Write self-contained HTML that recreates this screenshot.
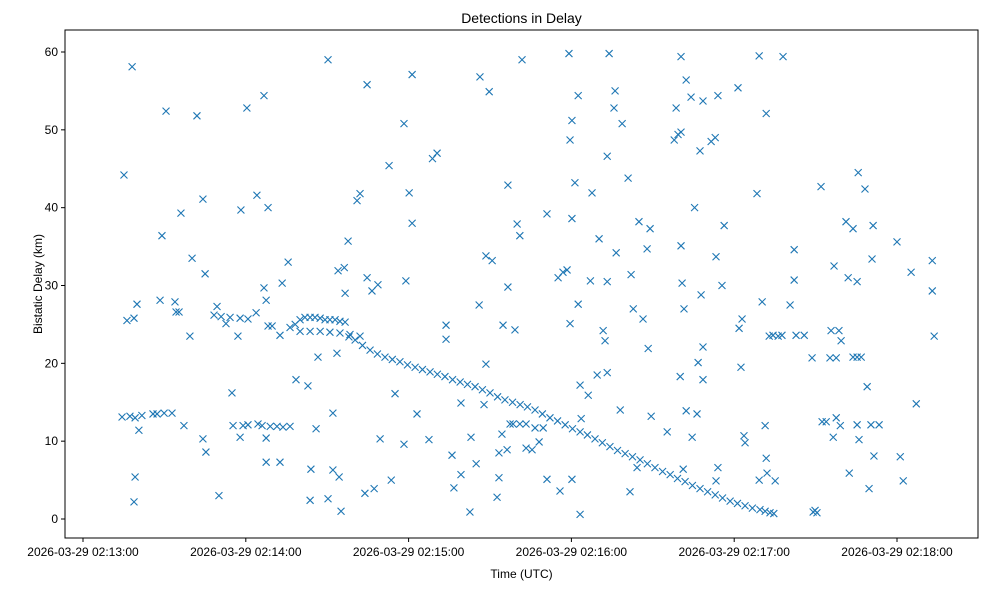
<!DOCTYPE html>
<html><head><meta charset="utf-8"><style>
body{margin:0;background:#fff;}
svg{font-family:"Liberation Sans","DejaVu Sans",sans-serif;}
</style></head><body>
<svg id="chart" width="985" height="590" xmlns="http://www.w3.org/2000/svg"></svg>
<script>
// time in seconds after 02:13:00, delay in km
const scatterTimes=[15.1,16.2,18.1,18.8,19.9,19.2,18.8,20.6,14.4,17.3,19.2,21.7,25.8,27.3,29.9,32.8,28.4,30.6,29.1,33.9,34.3,35.4,36.1,37.2,39.4,40.2,42,44.2,45,44.2,45.3,50.1,48.3,50.9,54.2,57.9,60.8,49.4,52.7,54.9,55.3,59,60.8,64.5,66,69,71.5,73.7,76.3,57.1,57.9,58.2,60.4,64.1,66.7,63.8,66.7,67.5,68.2,67.5,67.5,72.6,68.2,69.7,72.6,73.4,75.6,76.3,78.2,80,81.8,83.7,85.5,87.4,89.2,91,92.9,94.7,96.6,80,83.7,87.4,91,94.7,98.4,102.1,78.5,82.9,83.7,84,85.9,86.6,90.3,90.3,92.1,92.1,93.6,94.4,95.1,94,96.3,96.6,97.7,101,102.1,104.7,103.9,107.3,104.7,106.5,108.7,109.5,112.8,113.6,115,118.3,119,118.3,120.2,121.3,121.3,123.1,127.5,128.8,130.5,133.8,133.8,136,136.7,139.3,139.3,142.6,143,144.9,146,146.3,147.8,148.5,148.5,149.7,150.8,152.6,153.3,153.3,154.4,154.8,156.6,157.4,158.5,161,163.3,156.3,156.6,159.2,160,161,161.8,163.3,165.5,166.6,169.6,168.1,171,171,175.1,175.8,176.9,178.4,179.1,179.5,179.5,180.2,180.2,180.2,181.3,182.5,182.5,183.2,183.2,183.6,186.2,187,187.6,189.5,190.2,191.7,192.4,193.2,193.2,193.2,193.9,195.7,196.1,196.5,198,198.7,200.9,202,201.6,202.8,204.2,204.9,206.4,207.9,209,208.3,209.4,215.3,217.9,219.3,220.4,218.6,220.4,220.4,220.1,220.8,221.2,221.5,222.3,222.3,224.5,224.1,225.4,226.3,226.7,227.4,227.8,228.5,228.5,228.5,231.5,233,233.3,234,234,233.3,235.5,236.3,241.4,241.8,242.9,242.5,243.6,244,248.4,249.2,249.2,250.3,251.8,251.4,252.9,254.3,256.2,257.6,251.8,252.1,255.1,258,260.6,262.1,262.1,262.8,265.8,268.7,269.1,269.8,270.5,272,272.4,273.9,275.3,277.6,275.7,278.6,276.8,276.5,277.6,279.1,279.4,281.2,282,282.4,283.8,283.8,285.3,286.8,285.3,285.3,285.7,286,288.2,289,289.7,290.4,290.8,291.2,291.5,293.4,300,301.2,302.3,305.2,307.1,313,313,313.7];
const scatterDelays=[44.2,25.5,58.1,25.8,27.6,5.4,2.2,11.4,13.1,13.2,13,13.3,13.5,13.5,13.6,13.6,28.1,52.4,36.4,27.9,26.6,26.6,39.3,12,23.5,33.5,51.8,41.1,31.5,10.3,8.6,3,26.2,26,25.9,25.8,25.7,27.3,25.1,16.2,12,12,12.1,12.2,12,11.9,11.9,11.8,11.9,23.5,10.5,39.7,52.8,41.6,54.4,26.5,29.7,28.1,40,10.4,7.3,7.3,24.8,24.8,23.6,30.3,33,24.6,25,25.6,25.9,25.9,25.9,25.8,25.6,25.6,25.6,25.4,25.3,24.1,24.1,24.1,24,23.9,23.7,23.5,17.9,17.1,2.4,6.4,11.6,20.8,59,2.6,13.6,6.3,21.3,5.4,1,31.9,32.3,29,35.7,40.9,41.8,55.8,3.3,3.9,31,29.3,30.1,10.3,45.4,5,16.1,50.8,30.6,9.6,41.9,57.1,38,13.5,10.2,46.3,47,24.9,23.1,8.2,4,14.9,5.7,0.9,10.5,7.1,27.5,56.8,14.7,33.8,19.9,54.9,33.2,2.8,8.5,5.3,10.9,24.9,42.9,12.2,12.2,12.2,12.2,8.9,29.8,24.3,37.9,36.4,59,9.1,8.9,11.7,11.7,9.9,39.2,5.1,31,3.6,31.7,32,59.8,25.1,48.7,51.2,38.6,5.1,43.2,27.6,54.4,17.2,0.6,12.9,15.9,30.6,41.9,18.5,36,24.2,22.9,18.8,30.5,46.6,59.8,52.8,55,34.2,14,50.8,43.8,31.4,3.5,27,6.6,38.2,25.7,34.7,37.3,21.9,13.2,11.2,48.7,49.4,49.7,52.8,59.4,35.1,18.3,30.3,6.4,27,13.9,56.4,10.5,54.2,40,13.5,20.1,47.3,28.8,17.9,22.1,53.7,48.5,49,33.7,54.4,6.6,4.9,30,37.7,55.4,24.5,25.7,19.5,10.7,9.8,41.8,59.5,5,27.9,52.1,12,23.5,23.6,23.5,23.6,7.8,5.9,4.9,59.4,27.5,34.6,30.7,23.6,23.6,20.7,0.9,1.1,0.8,42.7,12.5,12.5,20.7,20.7,24.2,24.2,32.5,10.5,13,12,22.9,38.2,31,5.9,37.3,20.8,20.8,20.8,30.5,12.1,44.5,10.2,42.4,17,3.9,12.1,33.4,37.7,8.1,12.1,35.6,8,4.9,31.7,14.8,33.2,29.3,23.5];
const trackTimes=[98,100.3,103,105.8,108.5,111.3,114,116.8,119.6,122.4,125.1,127.9,130.6,133.4,136.2,139,141.7,144.5,147.2,150,152.8,155.5,158.3,161.1,163.8,166.6,169.3,172.1,174.9,177.7,180.4,183.2,185.9,188.7,191.4,194.2,197,199.8,202.5,205.3,208,210.8,213.6,216.4,219.1,221.9,224.6,227.4,230.2,233,235.7,238.5,241.2,244,246.7,249.5,251.4,253.2,254.6];
const trackDelays=[23.4,23,22.3,21.7,21.2,20.8,20.5,20.2,19.8,19.5,19.2,18.9,18.6,18.3,17.9,17.6,17.3,17,16.6,16.2,15.7,15.3,15,14.7,14.4,14,13.5,13,12.6,12.1,11.6,11.2,10.8,10.3,9.8,9.3,8.8,8.4,8,7.6,7.1,6.6,6.1,5.7,5.2,4.8,4.3,3.9,3.5,3.1,2.7,2.3,2,1.7,1.4,1.2,1,0.8,0.7];
const xTickLabels=["2026-03-29 02:13:00","2026-03-29 02:14:00","2026-03-29 02:15:00","2026-03-29 02:16:00","2026-03-29 02:17:00","2026-03-29 02:18:00"];
const xTickValues=[0,60,120,180,240,300];
const yTickValues=[0,10,20,30,40,50,60];

const svg=document.getElementById('chart');
const NS='http://www.w3.org/2000/svg';
const L=65,R=978,T=30,B=538;
const xs=t=>83+t*(897-83)/300;
const ys=d=>519-d*(519-52)/60;
function mk(tag,attrs,parent){const e=document.createElementNS(NS,tag);for(const k in attrs)e.setAttribute(k,attrs[k]);(parent||svg).appendChild(e);return e;}
const frame=mk('rect',{x:L,y:T,width:R-L,height:B-T,fill:'none',stroke:'#000','stroke-width':1});


const title=mk('text',{x:(L+R)/2,y:23,'text-anchor':'middle','font-size':14});
title.textContent='Detections in Delay';


const xl=mk('text',{x:(L+R)/2,y:578,'text-anchor':'middle','font-size':12});
xl.textContent='Time (UTC)';


const yl=mk('text',{x:0,y:0,'text-anchor':'middle','font-size':12,transform:`translate(42,${(T+B)/2}) rotate(-90)`});
yl.textContent='Bistatic Delay (km)';


xTickValues.forEach((v,i)=>{
  const x=xs(v);
  const tk=mk('line',{x1:x,x2:x,y1:B,y2:B+4,stroke:'#000'});
  
  
  const t=mk('text',{x:x,y:B+18,'text-anchor':'middle','font-size':12});
  t.textContent=xTickLabels[i];
  
  
});
yTickValues.forEach(v=>{
  const y=ys(v);
  const tk=mk('line',{x1:L-4,x2:L,y1:y,y2:y,stroke:'#000'});
  
  
  const t=mk('text',{x:L-7,y:y+4,'text-anchor':'end','font-size':12});
  t.textContent=v;
  
  
});
const g=mk('g',{stroke:'#1f77b4','stroke-width':1.1,fill:'none'});


function marker(t,d){
  const x=xs(t),y=ys(d),s=3.5;
  const p=mk('path',{d:`M${x-s},${y-s}L${x+s},${y+s}M${x-s},${y+s}L${x+s},${y-s}`},g);
  
  
}
scatterTimes.forEach((t,i)=>marker(t,scatterDelays[i]));
trackTimes.forEach((t,i)=>marker(t,trackDelays[i]));
</script>
</body></html>
